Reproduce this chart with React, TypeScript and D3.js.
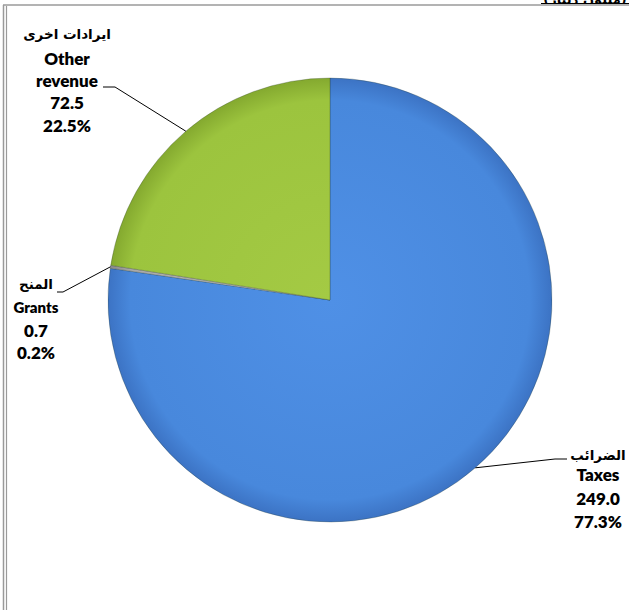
import React from "react";
import * as d3 from "d3";

const categories = ["Taxes", "Grants", "Other revenue"];
const categoriesAr = ["الضرائب", "المنح", "ايرادات اخرى"];
const values = [249.0, 0.7, 72.5];
const percents = ["77.3%", "0.2%", "22.5%"];
const sliceColors = [
  ["#4f90e6", "#4888dc", "#3c73c4"],
  ["#c8c8c8", "#a9a9a9", "#8a8a8a"],
  ["#a4ca44", "#9cc43e", "#84a92f"],
];

const W = 629;
const H = 610;
const cx = 330;
const cy = 300;
const R = 222;

// label layout: anchor x, arabic line y, latin line baselines, leader elbow/end
const labelLayout = [
  { x: 598, arY: 455, elbow: [555, 459], end: [567, 459], lines: [481, 505, 528], size: 17 },
  { x: 36, arY: 284, elbow: [63, 292], end: [57, 292], lines: [313, 337, 359], size: 17 },
  { x: 67, arY: 34, elbow: [115, 87], end: [103, 87], lines: [65, 87, 109, 132], size: 17 },
];

export default function App() {
  const pie = d3
    .pie<number>()
    .sort(null)
    .value((d) => d);
  const arcs = pie(values);
  const arcGen = d3.arc<d3.PieArcDatum<number>>().innerRadius(0).outerRadius(R);

  const latin = "Lato, 'Open Sans', sans-serif";
  const arabic = "'DejaVu Sans', 'Noto Sans', sans-serif";

  return (
    <svg
      width={W}
      height={H}
      style={{ position: "absolute", left: 0, top: 0, background: "#fff" }}
    >
      <defs>
        {sliceColors.map((c, i) => (
          <radialGradient
            key={i}
            id={`g${i}`}
            gradientUnits="userSpaceOnUse"
            cx={0}
            cy={0}
            r={R}
          >
            <stop offset="0%" stopColor={c[0]} />
            <stop offset="90%" stopColor={c[1]} />
            <stop offset="100%" stopColor={c[2]} />
          </radialGradient>
        ))}
        <clipPath id="topclip">
          <rect x={0} y={0} width={W} height={3.5} />
        </clipPath>
      </defs>

      {/* frame */}
      <line x1={3} y1={5} x2={W} y2={5} stroke="#9a9a9a" strokeWidth={1.5} />
      <line x1={3.5} y1={5} x2={3.5} y2={H} stroke="#9a9a9a" strokeWidth={1.5} />
      <line x1={6.5} y1={6} x2={6.5} y2={H} stroke="#9a9a9a" strokeWidth={1.2} />

      {/* cropped title at top right */}
      <g clipPath="url(#topclip)">
        <text
          x={585}
          y={4}
          textAnchor="middle"
          fontFamily={arabic}
          fontWeight="bold"
          fontSize={13}
          fill="#000"
        >
          (مليون دينار)
        </text>
      </g>
      <line x1={541} y1={3.5} x2={W} y2={3.5} stroke="#000" strokeWidth={1.2} />

      {/* slices */}
      <g transform={`translate(${cx},${cy})`}>
        {arcs.map((a, i) => (
          <path
            key={i}
            d={arcGen(a) || ""}
            fill={`url(#g${i})`}
            stroke="rgba(40,60,40,0.35)"
            strokeWidth={0.8}
          />
        ))}
      </g>

      {/* labels */}
      {arcs.map((a, i) => {
        const L = labelLayout[i];
        const mid = (a.startAngle + a.endAngle) / 2;
        const px = cx + R * Math.sin(mid);
        const py = cy - R * Math.cos(mid);
        const enLines = i === 2 ? ["Other", "revenue"] : [categories[i]];
        const rest = [values[i].toFixed(1), percents[i]];
        const all = [...enLines, ...rest];
        return (
          <g key={i}>
            <polyline
              points={`${px},${py} ${L.elbow[0]},${L.elbow[1]} ${L.end[0]},${L.end[1]}`}
              fill="none"
              stroke="#000"
              strokeWidth={1}
            />
            <text
              x={L.x}
              y={L.arY}
              dy="0.35em"
              textAnchor="middle"
              fontFamily={arabic}
              fontWeight="bold"
              fontSize={13.5}
              fill="#000"
            >
              {categoriesAr[i]}
            </text>
            {all.map((t, j) => (
              <text
                key={j}
                x={L.x}
                y={L.lines[j]}
                textAnchor="middle"
                fontFamily={latin}
                fontWeight={800}
                fontSize={i === 1 && j === 0 ? 15 : L.size}
                fill="#000"
              >
                {t}
              </text>
            ))}
          </g>
        );
      })}
    </svg>
  );
}
